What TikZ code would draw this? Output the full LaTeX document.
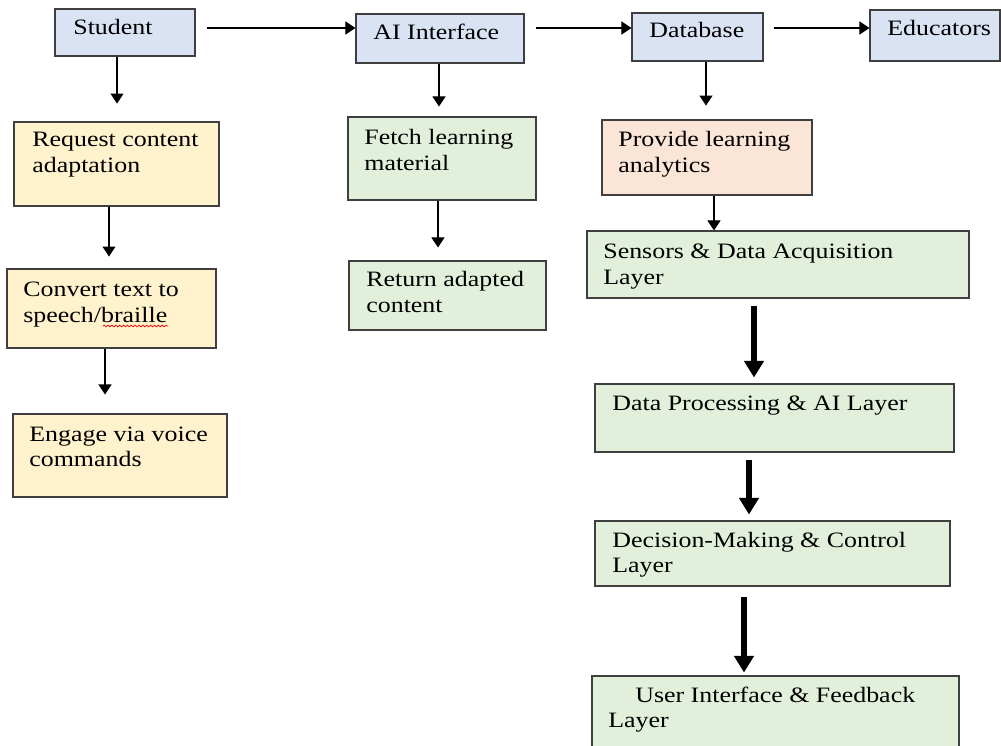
\documentclass[tikz,border=0pt]{standalone}
\usepackage{fontspec}
\setmainfont{Liberation Serif}
\usepackage{graphicx}
\usetikzlibrary{arrows.meta,fit,decorations.pathmorphing}

\definecolor{BlueFill}{HTML}{DAE3F3}
\definecolor{YellowFill}{HTML}{FFF2CC}
\definecolor{GreenFill}{HTML}{E2EFDA}
\definecolor{PeachFill}{HTML}{FBE5D6}
\definecolor{BoxLine}{HTML}{3F3F3F}

\newcommand\BoxText[1]{\scalebox{1.18}[1]{\begin{tabular}[t]{@{}l@{}}#1\end{tabular}}}

\begin{document}
\begin{tikzpicture}[
        %Environment config
        x=0.02cm, y=-0.02cm,
        font=\fontsize{12.5}{14.7}\selectfont,
        %Environment styles
        BoxCfg/.style={draw=BoxLine, line width=0.6pt, inner sep=0pt},
        TextCfg/.style={anchor=base west, inner sep=0pt},
        ThinArrow/.style={draw, line width=0.6pt, -{Triangle[length=5.7pt,width=7.4pt]}},
        ThickArrow/.style={draw, line width=3.4pt, -{Triangle[length=9.4pt,width=10.8pt]}}
    ]
    \clip (0,0) rectangle (1001,746);
    \fill[white] (0,0) rectangle (1001,746);

    %Top row
    \node[BoxCfg, fill=BlueFill, fit={(55,9) (195,56)}] (Stu) {};
    \node[BoxCfg, fill=BlueFill, fit={(356,14) (524,63)}] (AI) {};
    \node[BoxCfg, fill=BlueFill, fit={(632,13) (763,61)}] (DB) {};
    \node[BoxCfg, fill=BlueFill, fit={(870,10) (1000,61)}] (Edu) {};
    \node[TextCfg] (StuTxt) at (73,35) {\BoxText{Student}};
    \node[TextCfg] (AITxt) at (373,40) {\BoxText{AI Interface}};
    \node[TextCfg] (DBTxt) at (649,38) {\BoxText{Database}};
    \node[TextCfg] (EduTxt) at (887,36) {\BoxText{Educators}};

    %Student column
    \node[BoxCfg, fill=YellowFill, fit={(14,122) (219,206)}] (Req) {};
    \node[BoxCfg, fill=YellowFill, fit={(7,269) (216,348)}] (Cvt) {};
    \node[BoxCfg, fill=YellowFill, fit={(13,414) (227,497)}] (Eng) {};
    \node[TextCfg] (ReqTxt) at (32,147) {\BoxText{Request content\\adaptation}};
    \node[TextCfg] (CvtTxt) at (23,297) {\BoxText{Convert text to\\speech/braille}};
    \node[TextCfg] (EngTxt) at (29,441) {\BoxText{Engage via voice\\commands}};
    \draw[red, line width=0.4pt, decorate,
        decoration={snake, amplitude=0.5pt, segment length=2.2pt}] (103,326) -- (168,326);

    %AI column
    \node[BoxCfg, fill=GreenFill, fit={(348,117) (536,200)}] (Fetch) {};
    \node[BoxCfg, fill=GreenFill, fit={(349,261) (546,330)}] (Ret) {};
    \node[TextCfg] (FetchTxt) at (364,145) {\BoxText{Fetch learning\\material}};
    \node[TextCfg] (RetTxt) at (366,287) {\BoxText{Return adapted\\content}};

    %Database column
    \node[BoxCfg, fill=PeachFill, fit={(602,120) (812,195)}] (Prov) {};
    \node[BoxCfg, fill=GreenFill, fit={(587,231) (969,298)}] (Sens) {};
    \node[BoxCfg, fill=GreenFill, fit={(595,384) (954,452)}] (Proc) {};
    \node[BoxCfg, fill=GreenFill, fit={(595,521) (950,586)}] (Dec) {};
    \node[BoxCfg, fill=GreenFill, fit={(592,676) (959,760)}] (UI) {};
    \node[TextCfg] (ProvTxt) at (618,147) {\BoxText{Provide learning\\analytics}};
    \node[TextCfg] (SensTxt) at (603,259) {\BoxText{Sensors \& Data Acquisition\\Layer}};
    \node[TextCfg] (ProcTxt) at (612,411) {\BoxText{Data Processing \& AI Layer}};
    \node[TextCfg] (DecTxt) at (612,547) {\BoxText{Decision-Making \& Control\\Layer}};
    \node[TextCfg] (UITxt) at (608,702) {\BoxText{\hspace*{13pt}User Interface \& Feedback\\Layer}};

    %Connectors
    \draw[ThinArrow, shorten <=6.8pt] (Stu.east |- 0,28) -- (AI.west |- 0,28);
    \draw[ThinArrow, shorten <=6.8pt] (AI.east |- 0,28) -- (DB.west |- 0,28);
    \draw[ThinArrow, shorten <=5.7pt] (DB.east |- 0,28) -- (Edu.west |- 0,28);
    \draw[ThinArrow, shorten >=10.2pt] (Stu.south -| 117,0) -- (Req.north -| 117,0);
    \draw[ThinArrow, shorten >=6.8pt] (Req.south -| 109,0) -- (Cvt.north -| 109,0);
    \draw[ThinArrow, shorten >=10.8pt] (Cvt.south -| 105,0) -- (Eng.north -| 105,0);
    \draw[ThinArrow, shorten >=5.7pt] (AI.south -| 439,0) -- (Fetch.north -| 439,0);
    \draw[ThinArrow, shorten >=7.4pt] (Fetch.south -| 438,0) -- (Ret.north -| 438,0);
    \draw[ThinArrow, shorten >=7.9pt] (DB.south -| 706,0) -- (Prov.north -| 706,0);
    \draw[ThinArrow] (Prov.south -| 714,0) -- (Sens.north -| 714,0);
    \draw[ThickArrow, shorten <=4pt, shorten >=3.4pt] (Sens.south -| 754,0) -- (Proc.north -| 754,0);
    \draw[ThickArrow, shorten <=4.5pt, shorten >=3.4pt] (Proc.south -| 749,0) -- (Dec.north -| 749,0);
    \draw[ThickArrow, shorten <=6.2pt, shorten >=1.7pt] (Dec.south -| 744,0) -- (UI.north -| 744,0);
\end{tikzpicture}
\end{document}
